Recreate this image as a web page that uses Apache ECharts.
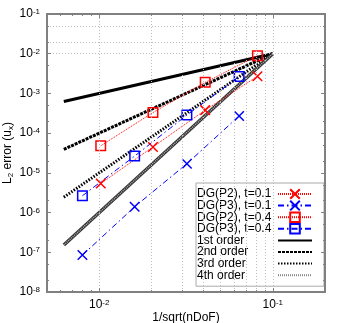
<!DOCTYPE html>
<html>
<head>
<meta charset="utf-8">
<script src="https://cdn.jsdelivr.net/npm/echarts@6/dist/echarts.min.js"></script>
<style>
html, body { margin: 0; padding: 0; background: #fff; }
#main { width: 346px; height: 323px; }
</style>
</head>
<body>
<div id="main"></div>
<script>
// mesh size 1/sqrt(nDoF)
var hP2 = [0.0102, 0.0204, 0.0408, 0.0816];
var hP3 = [0.0080, 0.0160, 0.0320, 0.0640];
// L2 errors
var errP2t01 = [5.4e-6, 4.5e-5, 3.8e-4, 2.7e-3];
var errP3t01 = [8.5e-8, 1.4e-6, 1.7e-5, 2.7e-4];
var errP2t04 = [4.8e-5, 3.3e-4, 1.9e-3, 8.9e-3];
var errP3t04 = [2.65e-6, 2.65e-5, 2.85e-4, 2.65e-3];
// order reference lines
var hRef = [0.00625, 0.1];
var ref1 = [6.25e-4, 1e-2];
var ref2 = [3.906e-5, 1e-2];
var ref3 = [2.441e-6, 1e-2];
var ref4 = [1.526e-7, 1e-2];
// ticks and grid
var xMajor = [0.01, 0.1];
var xMinor = [0.006, 0.007, 0.008, 0.009, 0.02, 0.03, 0.04, 0.05, 0.06, 0.07, 0.08, 0.09, 0.2];
var yMajor = [1e-8, 1e-7, 1e-6, 1e-5, 1e-4, 1e-3, 1e-2, 1e-1];
var yMinor = [2e-8, 5e-8, 2e-7, 5e-7, 2e-6, 5e-6, 2e-5, 5e-5, 2e-4, 5e-4, 2e-3, 5e-3, 2e-2, 5e-2];

var FONT = '"Liberation Sans", Arial, sans-serif';
var AXIS_GRAY = '#808080';

function zip(xs, ys) {
    var out = [];
    for (var i = 0; i < xs.length; i++) out.push([xs[i], ys[i]]);
    return out;
}
function pow10(v) {
    var e = Math.round(Math.log10(v));
    return '{b|10}{e|' + e + '}';
}
var powRich = {
    b: { fontSize: 12, lineHeight: 12, color: '#000', fontFamily: FONT },
    e: { fontSize: 8, lineHeight: 6, verticalAlign: 'top', color: '#000', fontFamily: FONT }
};

function makeX(pos, ticks, len, showLine, showLabel) {
    return {
        type: 'log', logBase: 10, min: 0.005, max: 0.2, position: pos,
        axisLine: { show: showLine, onZero: false, lineStyle: { color: AXIS_GRAY, width: 2 } },
        axisTick: { show: true, inside: true, length: len, customValues: ticks, lineStyle: { color: AXIS_GRAY, width: 1 } },
        axisLabel: { show: showLabel, customValues: ticks, formatter: pow10, rich: powRich, margin: 7 },
        splitLine: { show: false },
        name: showLabel ? '1/sqrt(nDoF)' : '',
        nameLocation: 'middle', nameGap: 20, nameMoveOverlap: false,
        nameTextStyle: { fontSize: 12, color: '#000', fontFamily: FONT },
        z: 5
    };
}
function makeY(pos, ticks, len, showLine, showLabel) {
    return {
        type: 'log', logBase: 10, min: 1e-8, max: 1e-1, position: pos,
        axisLine: { show: showLine, onZero: false, lineStyle: { color: AXIS_GRAY, width: 2 } },
        axisTick: { show: true, inside: true, length: len, customValues: ticks, lineStyle: { color: AXIS_GRAY, width: 1 } },
        axisLabel: { show: showLabel, customValues: ticks, formatter: pow10, rich: powRich, margin: 7 },
        splitLine: { show: false },
        name: showLabel ? 'L{s|2} error (u{s|x})' : '',
        nameLocation: 'middle', nameGap: 32, nameRotate: 90, nameMoveOverlap: false,
        nameTextStyle: {
            fontSize: 12, lineHeight: 14, color: '#000', fontFamily: FONT,
            rich: { s: { fontSize: 8, lineHeight: 4, verticalAlign: 'bottom', color: '#000', fontFamily: FONT } }
        },
        z: 5
    };
}

var xSym = 'path://M0 0L10 10M10 0L0 10';
var sqSym = 'path://M0 0H10V10H0Z';
var RED = '#ff0000', BLUE = '#0000ff';
var dotted = [1, 1];
var dashDot = [6, 3, 1.5, 3];

function dataSeries(name, xs, ys, color, sym, dash) {
    return {
        name: name, type: 'line', data: zip(xs, ys),
        symbol: sym, symbolSize: 9.5, showSymbol: true,
        itemStyle: { color: 'rgba(0,0,0,0)', borderColor: color, borderWidth: 1.5 },
        lineStyle: { color: color, width: 1, type: dash },
        z: 4, animation: false
    };
}
function refSeries(name, ys, color, width, dash) {
    return {
        name: name, type: 'line', data: zip(hRef, ys),
        symbol: 'none', showSymbol: false,
        itemStyle: { color: color },
        lineStyle: { color: color, width: width, type: dash },
        z: 3, animation: false
    };
}

var gridLines = [];
xMajor.concat(xMinor).forEach(function (v) { gridLines.push({ xAxis: v }); });
yMajor.concat(yMinor).forEach(function (v) { gridLines.push({ yAxis: v }); });

var myChart = echarts.init(document.getElementById('main'), null, { renderer: 'canvas' });
var option = {
    animation: false,
    backgroundColor: '#fff',
    textStyle: { fontFamily: FONT },
    grid: { left: 47, right: 21, top: 14, bottom: 31, containLabel: false, outerBoundsMode: 'none' },
    xAxis: [
        makeX('bottom', xMajor, 4, true, true),
        makeX('top', xMajor, 4, true, false),
        makeX('bottom', xMinor, 2, false, false),
        makeX('top', xMinor, 2, false, false)
    ],
    yAxis: [
        makeY('left', yMajor, 4, true, true),
        makeY('right', yMajor, 4, true, false),
        makeY('left', yMinor, 2, false, false),
        makeY('right', yMinor, 2, false, false)
    ],
    legend: {
        orient: 'vertical', left: 196, top: 183,
        padding: [5, 11, 5, 1],
        itemWidth: 34, itemHeight: 12, itemGap: -0.4,
        align: 'right',
        backgroundColor: '#fff', borderColor: '#aaaaaa', borderWidth: 1,
        formatter: function (n) { return '{a|' + n + '}'; },
        textStyle: { rich: { a: { width: 76, align: 'left', fontSize: 12, lineHeight: 11.6, color: '#000', fontFamily: FONT } } },
        data: [
            'DG(P2), t=0.1', 'DG(P3), t=0.1', 'DG(P2), t=0.4', 'DG(P3), t=0.4',
            { name: '1st order', itemStyle: { opacity: 0 } },
            { name: '2nd order', itemStyle: { opacity: 0 } },
            { name: '3rd order', itemStyle: { opacity: 0 }, lineStyle: { width: 2 } },
            { name: '4th order', itemStyle: { opacity: 0 }, lineStyle: { color: '#888', width: 2, type: [1, 1] } }
        ]
    },
    series: [
        {
            name: 'grid', type: 'line', data: [], z: 1, silent: true,
            markLine: {
                silent: true, symbol: ['none', 'none'], label: { show: false }, animation: false,
                lineStyle: { color: '#bdbdbd', width: 1, type: [1, 2] },
                emphasis: { disabled: true },
                data: gridLines
            }
        },
        dataSeries('DG(P2), t=0.1', hP2, errP2t01, RED, xSym, dotted),
        dataSeries('DG(P3), t=0.1', hP3, errP3t01, BLUE, xSym, dashDot),
        dataSeries('DG(P2), t=0.4', hP2, errP2t04, RED, sqSym, dotted),
        dataSeries('DG(P3), t=0.4', hP3, errP3t04, BLUE, sqSym, dashDot),
        refSeries('1st order', ref1, '#000', 3, 'solid'),
        refSeries('2nd order', ref2, '#000', 3, [3, 1]),
        refSeries('3rd order', ref3, '#000', 3, [1.5, 1.5]),
        refSeries('4th order', ref4, '#333', 3.5, 'solid'),
        refSeries('4th order inner', ref4, '#b0b0b0', 1.5, [1, 1])
    ]
};
myChart.setOption(option);
</script>
</body>
</html>
